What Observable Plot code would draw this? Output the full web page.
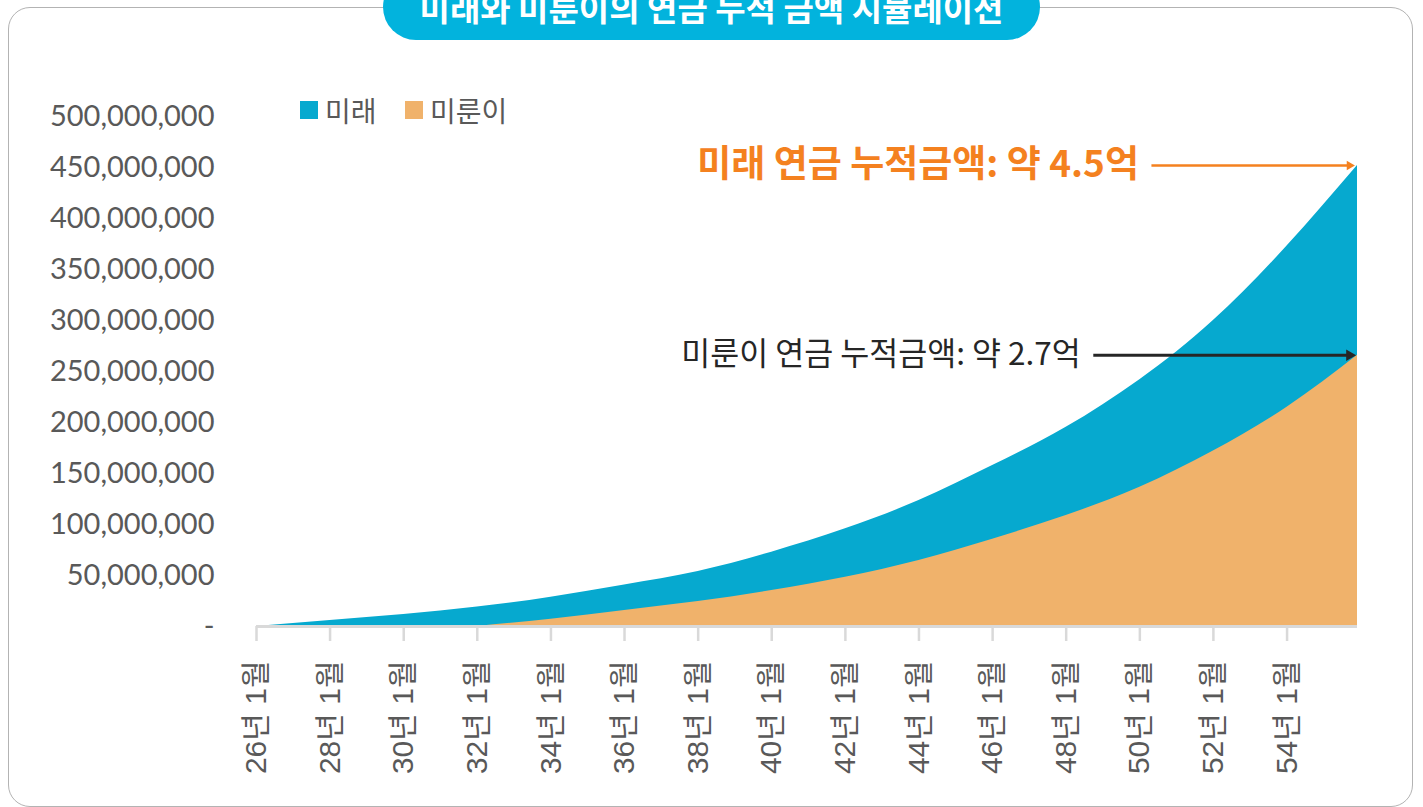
<!DOCTYPE html>
<html><head><meta charset="utf-8">
<script src="https://cdn.jsdelivr.net/npm/d3@7"></script>
<script src="https://cdn.jsdelivr.net/npm/@observablehq/plot@0.6"></script>
<style>
html,body{margin:0;padding:0;background:#fff;width:1423px;height:807px;overflow:hidden;position:relative;font-family:'Noto Sans CJK KR',sans-serif;}
#card{position:absolute;left:8px;top:7px;width:1405px;height:800px;border:1.5px solid #b3b3b3;border-radius:22px;box-sizing:border-box;}
#chart{position:absolute;left:0;top:0;}
#title{position:absolute;left:383px;top:-26px;width:657px;height:66px;border-radius:33px;background:#02B3DD;color:#fff;font-weight:700;font-size:33px;line-height:66px;text-align:center;white-space:nowrap;}
.legend{position:absolute;top:96px;height:28px;display:flex;align-items:center;font-size:28px;color:#595959;}
.sw{width:18px;height:18px;margin-right:7px;}
</style></head><body>
<div id="card"></div>
<div id="chart"></div>
<div id="title"></div>
<div class="legend" style="left:300px"><div class="sw" style="background:#06A9CF"></div><span id="lg0"></span></div>
<div class="legend" style="left:405px"><div class="sw" style="background:#F0B26B"></div><span id="lg1"></span></div>
<script>
const titleText = "미래와 미룬이의 연금 누적 금액 시뮬레이션";
const seriesNames = ["미래", "미룬이"];

// 미래: cumulative amount (won)
const mireDates = ["2026-01","2028-01","2030-01","2032-01","2034-01","2036-01","2038-01","2040-01","2042-01","2044-01","2046-01","2048-01","2050-01","2052-01","2054-01","2055-12"];
const mireValues = [0, 5.9e6, 11.8e6, 19e6, 28.7e6, 40.8e6, 54e6, 72.9e6, 95.8e6, 123.5e6, 157.8e6, 195.4e6, 242e6, 300e6, 373e6, 452e6];

// 미룬이: cumulative amount (won)
const mirunDates = ["2032-01","2034-01","2036-01","2038-01","2040-01","2042-01","2044-01","2046-01","2048-01","2050-01","2052-01","2054-01","2055-12"];
const mirunValues = [0, 7.2e6, 15.7e6, 24.5e6, 35.3e6, 48.3e6, 64.7e6, 85.5e6, 108.8e6, 136.5e6, 172e6, 215e6, 266e6];

const xTickYears = [26,28,30,32,34,36,38,40,42,44,46,48,50,52,54];
const xTickLabels = ["26년 1월","28년 1월","30년 1월","32년 1월","34년 1월","36년 1월","38년 1월","40년 1월","42년 1월","44년 1월","46년 1월","48년 1월","50년 1월","52년 1월","54년 1월"];
const yTicks = [0,5e7,1e8,1.5e8,2e8,2.5e8,3e8,3.5e8,4e8,4.5e8,5e8];

const noteLabels = ["미래 연금 누적금액: 약 4.5억", "미룬이 연금 누적금액: 약 2.7억"];
const noteStarts = ["2050-05", "2048-10"];

const parse = s => new Date(s + "-01T00:00:00Z");
const mire = mireDates.map((d,i)=>({date: parse(d), value: mireValues[i]}));
const mirun = mirunDates.map((d,i)=>({date: parse(d), value: mirunValues[i]}));
const xTickDates = xTickYears.map(y => new Date(Date.UTC(2000+y,0,1)));
const labelByTime = new Map(xTickDates.map((d,i)=>[d.getTime(), xTickLabels[i]]));
const endDate = parse(mireDates[mireDates.length-1]);
const notes = [
  {label: noteLabels[0], start: parse(noteStarts[0]), end: endDate, value: mireValues[mireValues.length-1]},
  {label: noteLabels[1], start: parse(noteStarts[1]), end: endDate, value: mirunValues[mirunValues.length-1]}
];

document.getElementById("title").textContent = titleText;
document.getElementById("lg0").textContent = seriesNames[0];
document.getElementById("lg1").textContent = seriesNames[1];

const krFont = "'Noto Sans CJK KR', sans-serif";
const plot = Plot.plot({
  width: 1423, height: 807,
  marginLeft: 256, marginRight: 66, marginTop: 116, marginBottom: 181,
  x: {type: "utc", domain: [parse(mireDates[0]), endDate], label: null},
  y: {domain: [0, 5e8], label: null},
  style: {background: "transparent", overflow: "visible"},
  marks: [
    Plot.areaY(mire, {x: "date", y: "value", fill: "#06A9CF", curve: "natural"}),
    Plot.areaY(mirun, {x: "date", y: "value", fill: "#F0B26B", curve: "natural"}),
    Plot.ruleY([0], {stroke: "#d9d9d9", strokeWidth: 3}),
    Plot.axisX({ticks: xTickDates, tickFormat: d => labelByTime.get(d.getTime()), tickRotate: -90, tickSize: 15, tickPadding: 19,
      stroke: "#d9d9d9", strokeWidth: 2.5, fill: "#595959", fontSize: 30, fontFamily: "'Liberation Sans','Noto Sans CJK KR',sans-serif", label: null}),
    Plot.axisY({ticks: yTicks, tickFormat: d => d === 0 ? "-" : d3.format(",")(d), tickSize: 0, tickPadding: 42,
      fill: "#595959", fontSize: 29, fontFamily: "Lato, sans-serif", label: null}),
    Plot.ruleY([notes[0]], {y: "value", x1: "start", x2: "end", stroke: "#F4811F", strokeWidth: 2.5, insetRight: 10}),
    Plot.dot([notes[0]], {x: "end", y: "value", symbol: "triangle2", rotate: 90, r: 4.5, fill: "#F4811F", dx: -8}),
    Plot.text([notes[0]], {x: "start", y: "value", text: "label", textAnchor: "end", dx: -13, fill: "#F4811F", fontSize: 37, fontWeight: 700, fontFamily: krFont}),
    Plot.ruleY([notes[1]], {y: "value", x1: "start", x2: "end", stroke: "#262626", strokeWidth: 3, insetRight: 10}),
    Plot.dot([notes[1]], {x: "end", y: "value", symbol: "triangle2", rotate: 90, r: 5.5, fill: "#262626", dx: -8}),
    Plot.text([notes[1]], {x: "start", y: "value", text: "label", textAnchor: "end", dx: -13, fill: "#262626", fontSize: 31.5, fontFamily: krFont})
  ]
});
document.getElementById("chart").appendChild(plot);
</script>
</body></html>
